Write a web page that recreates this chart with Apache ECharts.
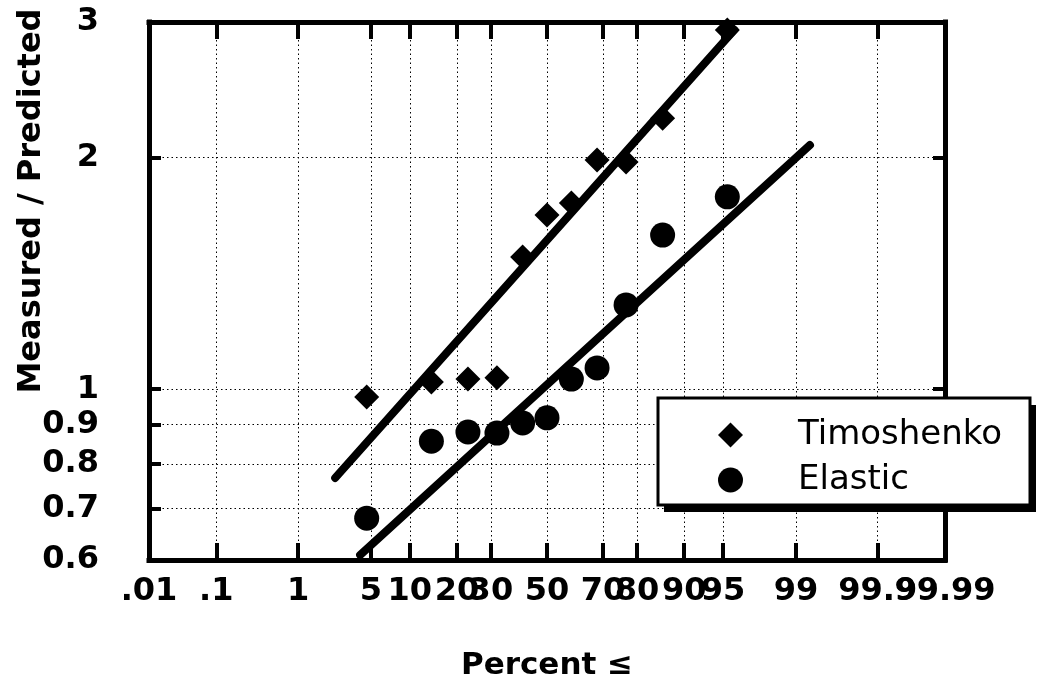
<!DOCTYPE html>
<html><head><meta charset="utf-8">
<script src="https://cdn.jsdelivr.net/npm/echarts@6/dist/echarts.min.js"></script>
<style>html,body{margin:0;padding:0;background:#fff}#c{width:1037px;height:683px}</style>
</head><body><div id="c"></div>
<script>
// ---- data ----
const percentPositions = [4.6, 14, 23, 32, 41, 50, 59, 68, 77, 86, 95.4];
const timoshenko = [0.977, 1.022, 1.031, 1.035, 1.485, 1.684, 1.746, 1.985, 1.974, 2.25, 2.93];
const elastic = [0.680, 0.856, 0.880, 0.877, 0.904, 0.918, 1.031, 1.066, 1.287, 1.586, 1.778];
const timoshenkoFitPercent = [2.39, 96.0];
const timoshenkoFitValue = [0.767, 2.93];
const elasticFitPercent = [4.04, 99.3];
const elasticFitValue = [0.609, 2.076];
const xTickPercents = [0.01, 0.1, 1, 5, 10, 20, 30, 50, 70, 80, 90, 95, 99, 99.9, 99.99];
const xTickLabels = ['.01', '.1', '1', '5', '10', '20', '30', '50', '70', '80', '90', '95', '99', '99.9', '99.99'];
const yTickValues = [0.6, 0.7, 0.8, 0.9, 1, 2, 3];
const yTickLabels = ['0.6', '0.7', '0.8', '0.9', '1', '2', '3'];

// ---- scale transforms (normal probability for x, log for y) ----
function probit(p) {
  const a=[-3.969683028665376e+01,2.209460984245205e+02,-2.759285104469687e+02,1.383577518672690e+02,-3.066479806614716e+01,2.506628277459239e+00];
  const b=[-5.447609879822406e+01,1.615858368580409e+02,-1.556989798598866e+02,6.680131188771972e+01,-1.328068155288572e+01];
  const c=[-7.784894002430293e-03,-3.223964580411365e-01,-2.400758277161838e+00,-2.549671039403234e+00,4.374664141464968e+00,2.938163982698783e+00];
  const d=[7.784695709041462e-03,3.224671290700398e-01,2.445134137142996e+00,3.754408661907416e+00];
  const pl=0.02425, ph=1-pl; let q,r;
  if(p<pl){q=Math.sqrt(-2*Math.log(p));return (((((c[0]*q+c[1])*q+c[2])*q+c[3])*q+c[4])*q+c[5])/((((d[0]*q+d[1])*q+d[2])*q+d[3])*q+1);}
  if(p<=ph){q=p-0.5;r=q*q;return (((((a[0]*r+a[1])*r+a[2])*r+a[3])*r+a[4])*r+a[5])*q/(((((b[0]*r+b[1])*r+b[2])*r+b[3])*r+b[4])*r+1);}
  q=Math.sqrt(-2*Math.log(1-p));return -(((((c[0]*q+c[1])*q+c[2])*q+c[3])*q+c[4])*q+c[5])/((((d[0]*q+d[1])*q+d[2])*q+d[3])*q+1);
}
const X = p => probit(p / 100);
const Y = v => Math.log(v);
const xMin = X(xTickPercents[0]), xMax = X(xTickPercents[xTickPercents.length - 1]);
const yMin = Y(yTickValues[0]), yMax = Y(yTickValues[yTickValues.length - 1]);
const xTicks = xTickPercents.slice(1, -1).map(X);
const xLabels = xTickPercents.map(X);
const yTicks = yTickValues.slice(1, -1).map(Y);
const yLabels = yTickValues.map(Y);
function nearest(arr, v) { let b = 0; arr.forEach((t, i) => { if (Math.abs(t - v) < Math.abs(arr[b] - v)) b = i; }); return b; }

const pts = (ps, vs) => ps.map((p, i) => [X(p), Y(vs[i])]);

const FONT = 'DejaVu Sans';
const border = { show: true, onZero: false, lineStyle: { color: '#000', width: 5, cap: 'square' } };
const grid = { show: true, lineStyle: { color: '#000', width: 1, type: [1.5, 3] } };
const xLabelStyle = { show: true, showMinLabel: true, showMaxLabel: true, hideOverlap: false,
  margin: 16, color: '#000', fontFamily: FONT, fontWeight: 'bold', fontSize: 32,
  formatter: v => xTickLabels[nearest(xLabels, v)] };

const chart = echarts.init(document.getElementById('c'), null, { renderer: 'canvas' });
chart.setOption({
  animation: false,
  backgroundColor: '#fff',
  grid: { left: 149, right: 92, top: 22, bottom: 123, containLabel: false, outerBoundsMode: 'none' },
  xAxis: [{
    type: 'value', min: xMin, max: xMax, position: 'bottom',
    axisLine: border,
    axisTick: { show: true, inside: true, length: 17, customValues: xTicks, lineStyle: { color: '#000', width: 4 } },
    splitLine: grid,
    axisLabel: Object.assign({}, xLabelStyle, { customValues: xLabels.slice(0, -1) }),
    name: 'Percent \u2264', nameLocation: 'middle', nameGap: 90, nameMoveOverlap: false,
    nameTextStyle: { color: '#000', fontFamily: FONT, fontWeight: 'bold', fontSize: 31 }
  }, {
    type: 'value', min: xMin, max: xMax, position: 'top',
    axisLine: border,
    axisTick: { show: true, inside: true, length: 17, customValues: xTicks, lineStyle: { color: '#000', width: 4 } },
    splitLine: { show: false }, axisLabel: { show: false }
  }, {
    type: 'value', min: xMin, max: xMax, position: 'bottom',
    axisLine: { show: false }, axisTick: { show: false }, splitLine: { show: false },
    axisLabel: Object.assign({}, xLabelStyle, { customValues: xLabels.slice(-1) })
  }],
  yAxis: [{
    type: 'value', min: yMin, max: yMax, position: 'left',
    axisLine: border,
    axisTick: { show: true, inside: true, length: 12, customValues: yTicks, lineStyle: { color: '#000', width: 4 } },
    splitLine: grid,
    axisLabel: { show: true, customValues: yLabels, showMinLabel: true, showMaxLabel: true, hideOverlap: false,
      margin: 50, color: '#000', fontFamily: FONT, fontWeight: 'bold', fontSize: 32,
      formatter: v => yTickLabels[nearest(yLabels, v)] },
    name: 'Measured / Predicted', nameLocation: 'middle', nameGap: 101, nameRotate: 90, nameMoveOverlap: false,
    nameTextStyle: { color: '#000', fontFamily: FONT, fontWeight: 'bold', fontSize: 32, padding: [0, 0, 0, 180] }
  }, {
    type: 'value', min: yMin, max: yMax, position: 'right',
    axisLine: border,
    axisTick: { show: true, inside: true, length: 12, customValues: yTicks, lineStyle: { color: '#000', width: 4 } },
    splitLine: { show: false }, axisLabel: { show: false }
  }],
  graphic: [
    { type: 'rect', z: 100, shape: { x: 664, y: 405, width: 372, height: 107 }, style: { fill: '#000' } },
    { type: 'rect', z: 101, shape: { x: 658, y: 398, width: 372, height: 107 }, style: { fill: '#fff', stroke: '#000', lineWidth: 3 } }
  ],
  legend: {
    z: 200,
    orient: 'vertical', left: 658, top: 398,
    data: [{ name: 'Timoshenko', icon: 'diamond' }, { name: 'Elastic', icon: 'circle' }],
    itemWidth: 25, itemHeight: 25, itemGap: 11,
    padding: [20, 0, 14, 60],
    selectedMode: false,
    textStyle: { color: '#000', fontFamily: FONT, fontSize: 34, lineHeight: 30, padding: [0, 0, 0, 50] }
  },
  series: [
    { name: 'Timoshenko fit', type: 'line', data: pts(timoshenkoFitPercent, timoshenkoFitValue), symbol: 'none', silent: true,
      lineStyle: { color: '#000', width: 8, cap: 'round' }, z: 2 },
    { name: 'Elastic fit', type: 'line', data: pts(elasticFitPercent, elasticFitValue), symbol: 'none', silent: true,
      lineStyle: { color: '#000', width: 8, cap: 'round' }, z: 2 },
    { name: 'Timoshenko', type: 'scatter', symbol: 'diamond', symbolSize: 25, data: pts(percentPositions, timoshenko),
      itemStyle: { color: '#000', opacity: 1 }, z: 3 },
    { name: 'Elastic', type: 'scatter', symbol: 'circle', symbolSize: 25, data: pts(percentPositions, elastic),
      itemStyle: { color: '#000', opacity: 1 }, z: 3 }
  ]
});
</script></body></html>
